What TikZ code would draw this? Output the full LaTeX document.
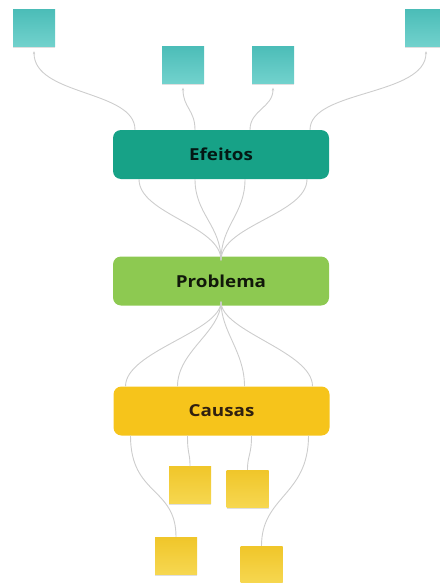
\documentclass[tikz,border=0pt]{standalone}
\usepackage{fontspec}
\setmainfont{Open Sans}
\newfontfamily\boxfont{Open Sans}[FakeStretch=1.14]
\usetikzlibrary{shadows,arrows.meta}
\definecolor{teal1}{HTML}{17A287}
\definecolor{green1}{HTML}{8DC951}
\definecolor{yellow1}{HTML}{F6C41B}
\definecolor{stickT}{HTML}{4CBDB8}
\definecolor{stickTl}{HTML}{72D2CD}
\definecolor{stickY}{HTML}{F0C62A}
\definecolor{stickYl}{HTML}{F6D750}
\definecolor{conn}{HTML}{CDCDCD}
\tikzset{
  mainbox/.style={rounded corners=8pt, minimum width=216pt, minimum height=49pt,
    font=\boxfont\fontsize{16.5}{19}\selectfont\bfseries, inner sep=0pt},
  sticky/.style={minimum width=42pt, minimum height=37pt, inner sep=0pt,
    drop shadow={opacity=0.25, shadow xshift=0pt, shadow yshift=-1.5pt}},
  tealsticky/.style={sticky, top color=stickT, bottom color=stickTl, draw=none},
  yelsticky/.style={sticky, top color=stickY, bottom color=stickYl, draw=none},
  cn/.style={draw=conn, line width=0.9pt},
  cna/.style={cn, -{Stealth[length=3pt,width=2.5pt]}},
}
\begin{document}
\begin{tikzpicture}[x=1pt,y=-1pt]
\useasboundingbox (0,0) rectangle (439,583);
% main boxes
\node[mainbox, fill=teal1, text=black!85!teal1] (ef) at (221,154.5) {Efeitos};
\node[mainbox, fill=green1, text=black!88!green1] (pr) at (221,281) {Problema};
\node[mainbox, fill=yellow1, text=black!75!brown] (ca) at (221.5,411) {Causas};
% teal stickies
\node[tealsticky] (t1) at (34,28.5) {};
\node[tealsticky] (t2) at (183,65) {};
\node[tealsticky] (t3) at (273,65) {};
\node[tealsticky] (t4) at (426,28.5) {};
% yellow stickies
\node[yelsticky] (y1) at (190,485) {};
\node[yelsticky] (y2) at (247.5,488.5) {};
\node[yelsticky] (y3) at (176,555.5) {};
\node[yelsticky] (y4) at (261.5,564.5) {};
% connectors: Efeitos to teal stickies
\draw[cna] ([xshift=-86pt]ef.north) .. controls +(0,-40) and +(0,45) .. ([yshift=-4pt]t1.south);
\draw[cna] ([xshift=-26pt]ef.north) .. controls +(0,-20) and +(0,20) .. ([yshift=-4pt]t2.south);
\draw[cna] ([xshift=29pt]ef.north) .. controls +(0,-20) and +(0,20) .. ([yshift=-4pt]t3.south);
\draw[cna] ([xshift=89pt]ef.north) .. controls +(0,-40) and +(0,45) .. ([yshift=-4pt]t4.south);
% Efeitos to Problema
\foreach \dx in {-82,-26,24,86}{
  \draw[cn] ([xshift=\dx pt]ef.south) .. controls +(0,35) and +(0,-35) .. ([yshift=-4pt]pr.north);
}
% Problema to Causas
\foreach \dx in {-96,-44,23,91}{
  \draw[cn] ([yshift=4pt]pr.south) .. controls +(0,30) and +(0,-35) .. ([xshift=\dx pt]ca.north);
}
% Causas to yellow stickies
\draw[cn] ([xshift=-34pt]ca.south) .. controls +(0,20) and +(0,-15) .. (y1.north);
\draw[cn] ([xshift=30pt]ca.south) .. controls +(0,20) and +(0,-15) .. (y2.north);
\draw[cn] ([xshift=-91pt]ca.south) .. controls +(0,60) and +(0,-50) .. (y3.north);
\draw[cn] ([xshift=87pt]ca.south) .. controls +(0,60) and +(0,-50) .. (y4.north);
\end{tikzpicture}
\end{document}
